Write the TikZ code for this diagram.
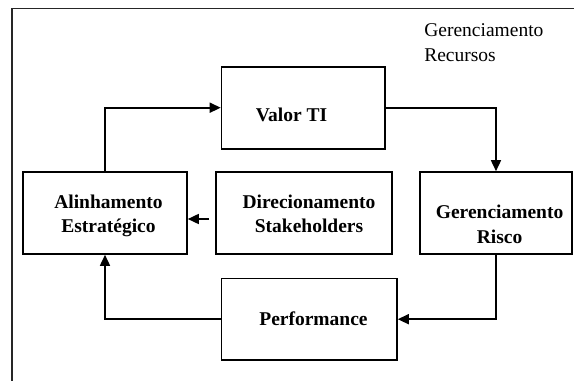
\documentclass[tikz,border=0pt]{standalone}
\usepackage{fontspec}
\setmainfont{Liberation Serif}
\usetikzlibrary{arrows.meta,positioning}

\begin{document}
\begin{tikzpicture}[x=1pt,y=-1pt,->,>={Triangle[length=11pt,width=10pt]},line width=1.6pt]

   \tikzstyle{block}=[draw,line width=1.6pt,minimum height=82pt,inner sep=0pt]
   \tikzstyle{txt}=[align=center,inner sep=0pt,font=\bfseries\fontsize{19.5}{24.5}\selectfont]

   \useasboundingbox (0,0) rectangle (574,381);

   % outer frame, cut by the page on the right and at the bottom
   \draw[-,line width=1.4pt,draw=black!85] (574,8.5) -- (12,8.5) -- (12,381);

   \node[anchor=base west,align=left,inner sep=0pt,font=\fontsize{19.5}{25}\selectfont]
   at (423.5,61) (recursos) {Gerenciamento\\Recursos};

   \node[block,minimum width=163.5pt] at (303.25,107.7) (valor){};
   \node[block,minimum width=164pt] at (105,213) (alin){};
   \node[block,minimum width=176pt] at (304,213) (direc){};
   \node[block,minimum width=152pt] at (496,213) (risco){};
   \node[block,minimum width=175.5pt,minimum height=81.7pt] at (309.25,319.2) (perf){};

   \node[txt] at ([xshift=-11.75pt,yshift=-7.4pt]valor.center) (valortxt) {Valor TI};
   \node[txt] at ([xshift=3.5pt,yshift=-3pt]alin.center) (alintxt) {Alinhamento\\Estratégico};
   \node[txt] at ([xshift=5pt,yshift=-1pt]direc.center) (directxt) {Direcionamento\\Stakeholders};
   \node[txt] at ([xshift=3.6pt,yshift=-11.5pt]risco.center) (riscotxt) {Gerenciamento\\Risco};
   \node[txt] at ([xshift=4.25pt]perf.center) (perftxt) {Performance};

   \draw (alin.north) |- (valor.west);
   \draw (valor.east) -| (risco.north);
   \draw (risco.south) |- (perf.east);
   \draw (perf.west) -| (alin.south);
   \draw [shorten <=6pt] ([yshift=-6pt]direc.west) -- ([yshift=-6pt]alin.east);

\end{tikzpicture}
\end{document}
